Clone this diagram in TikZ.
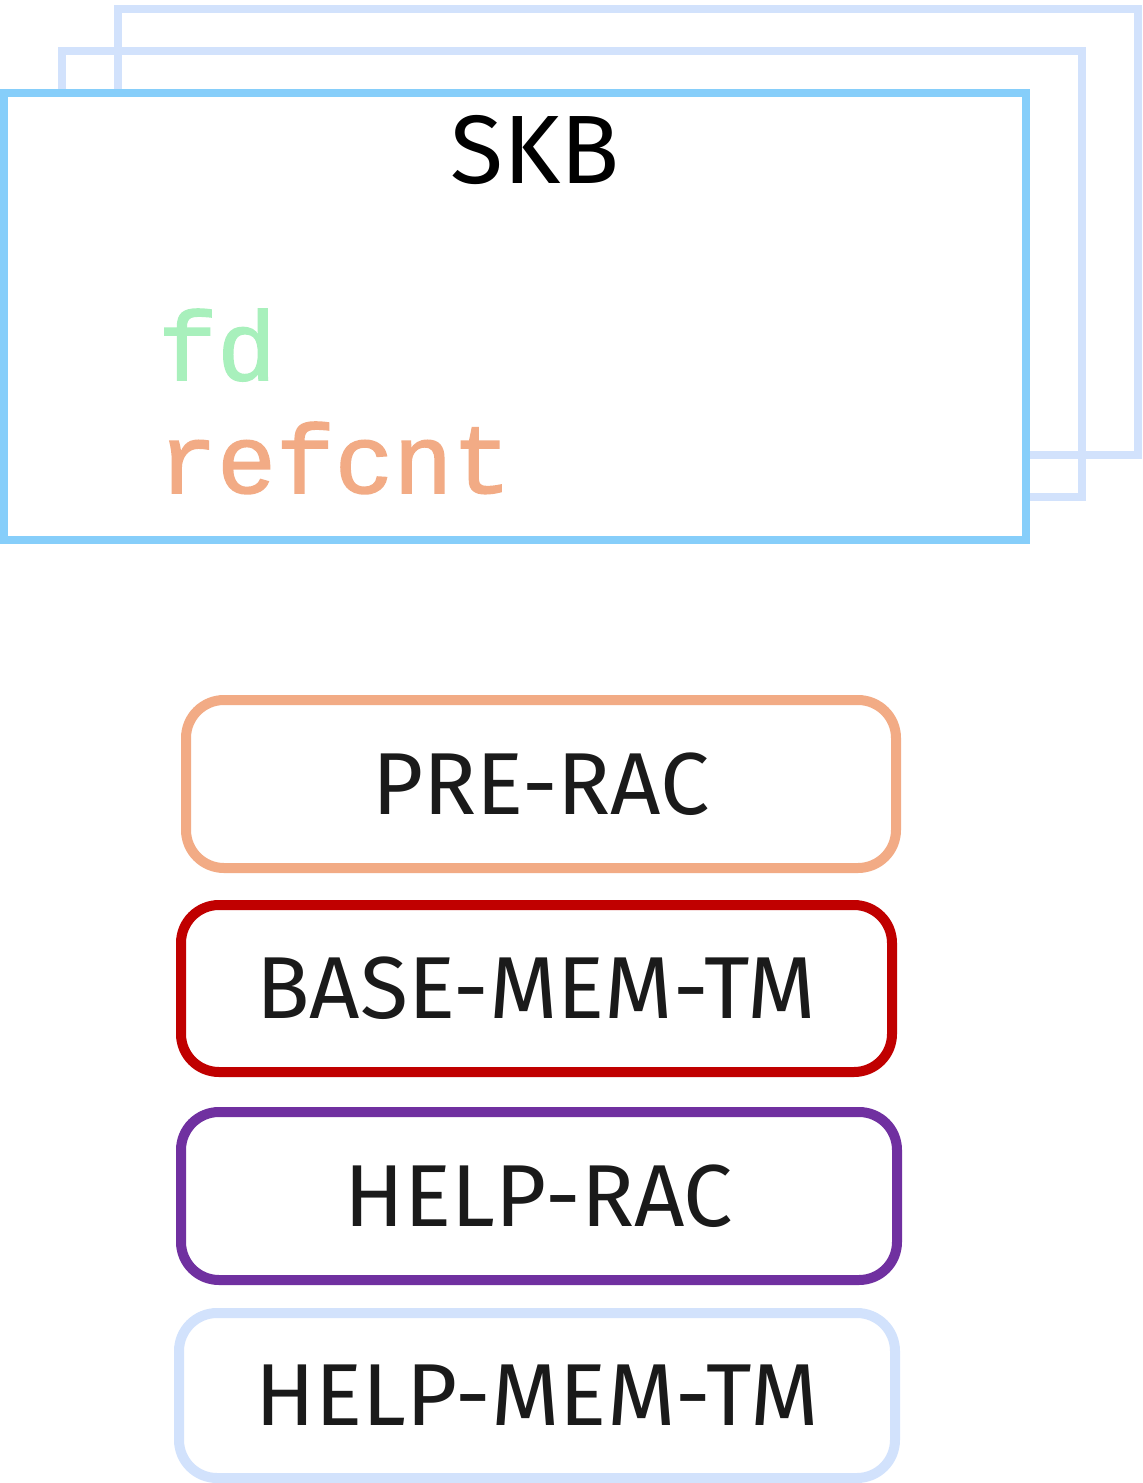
\documentclass[tikz,border=0pt]{standalone}
\usepackage{fontspec}
\setmainfont{Fira Sans}
\newfontfamily\codefont{Liberation Mono}[FakeBold=1.6]
\definecolor{skbblue}{HTML}{86CEFA}
\definecolor{paleblue}{HTML}{D2E2FC}
\definecolor{fdgreen}{HTML}{A8F0BC}
\definecolor{salmon}{HTML}{F2AB85}
\definecolor{darkred}{HTML}{C00000}
\definecolor{violet}{HTML}{7030A0}
\definecolor{ink}{HTML}{1A1A1A}
\tikzset{
  skbframe/.style={draw=paleblue, line width=4pt},
  layerbox/.style={draw, line width=5pt, rounded corners=19pt, fill=white,
    minimum height=84pt, inner sep=0pt, text=ink, font=\fontsize{44}{50}\selectfont},
  codetext/.style={anchor=base west, inner sep=0pt, font=\codefont\fontsize{49}{54}\selectfont}
}
\begin{document}
\begin{tikzpicture}[x=0.5pt, y=-0.5pt]
\useasboundingbox (0,0) rectangle (1142,1483);

% stacked sk_buff frames
\draw[skbframe] (118,9) rectangle (1138,455);
\draw[skbframe] (62,51) rectangle (1082,497);
\draw[draw=skbblue, line width=4pt, fill=white] (4,93) rectangle (1026,540);

\node[anchor=base, inner sep=0pt, font=\fontsize{48.6}{54}\selectfont] (skb) at (535,183) {SKB};
\node[codetext, text=fdgreen] (fd) at (158,380) {fd};
\node[codetext, text=salmon] (refcnt) at (158,493) {refcnt};

% memory accounting layers
\node[layerbox, draw=salmon, minimum width=355pt, minimum height=84pt] (prerac) at (541,784) {PRE-RAC};
\node[layerbox, draw=darkred, minimum width=355.5pt, minimum height=83.5pt] (basemem) at (536.5,988.5) {BASE-MEM-TM};
\node[layerbox, draw=violet, minimum width=358pt, minimum height=84pt] (helprac) at (539,1196) {HELP-RAC};
\node[layerbox, draw=paleblue, minimum width=358pt, minimum height=82.5pt] (helpmem) at (537,1395.5) {HELP-MEM-TM};
\end{tikzpicture}
\end{document}
